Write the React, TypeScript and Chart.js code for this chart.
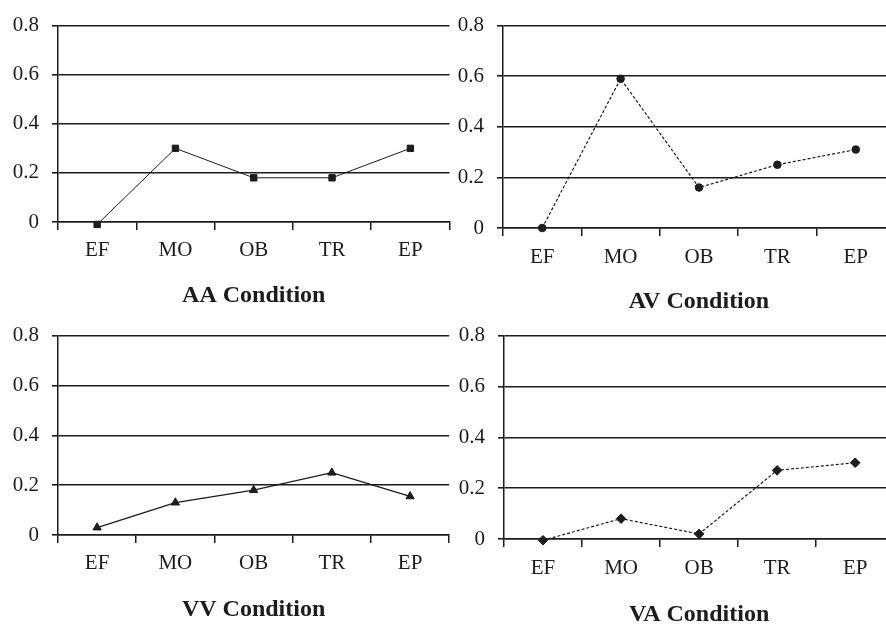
import React, { useEffect, useRef } from "react";
import { Chart, registerables } from "chart.js";

Chart.register(...registerables);

const categories = ["EF", "MO", "OB", "TR", "EP"];
const yTicks = [0, 0.2, 0.4, 0.6, 0.8];

const aaValues = [-0.01, 0.3, 0.18, 0.18, 0.3];
const avValues = [0, 0.59, 0.16, 0.25, 0.31];
const vvValues = [0.03, 0.13, 0.18, 0.25, 0.155];
const vaValues = [-0.005, 0.08, 0.02, 0.27, 0.3];

const titles = ["AA Condition", "AV Condition", "VV Condition", "VA Condition"];

type Panel = {
  title: string;
  values: number[];
  marker: string;
  radius: number;
  dash: number[];
  lineWidth: number;
  left: number;
  top: number;
  width: number;
  plotLeft: number;
  plotTop: number;
  plotRight: number;
  plotBottom: number;
  labelY: number;
  titleY: number;
};

const panels: Panel[] = [
  { title: titles[0], values: aaValues, marker: "rect", radius: 4.5, dash: [], lineWidth: 1,
    left: 0, top: 0, width: 455, plotLeft: 58, plotTop: 19, plotRight: 452, plotBottom: 222, labelY: 250, titleY: 296 },
  { title: titles[1], values: avValues, marker: "circle", radius: 3.8, dash: [3, 2], lineWidth: 1.2,
    left: 440, top: 0, width: 460, plotLeft: 503, plotTop: 19, plotRight: 900, plotBottom: 228, labelY: 257, titleY: 302 },
  { title: titles[2], values: vvValues, marker: "triangle", radius: 4.8, dash: [], lineWidth: 1.3,
    left: 0, top: 310, width: 455, plotLeft: 58, plotTop: 332, plotRight: 452, plotBottom: 535, labelY: 563, titleY: 610 },
  { title: titles[3], values: vaValues, marker: "rectRot", radius: 4.8, dash: [3, 2], lineWidth: 1.2,
    left: 440, top: 310, width: 460, plotLeft: 504, plotTop: 331, plotRight: 900, plotBottom: 539, labelY: 568, titleY: 615 },
];

const FONT = "'Liberation Serif', 'Times New Roman', serif";
const INK = "#1c1c1c";

function PanelChart({ p }: { p: Panel }) {
  const ref = useRef<HTMLCanvasElement | null>(null);
  const titleSize = 24;
  const labelSize = 21;
  const canvasBottom = p.titleY + 16;
  const height = canvasBottom - p.top;
  const xHeight = canvasBottom - p.plotBottom;
  const labelLH = labelSize * 1.2;
  const labelPad = p.labelY - p.plotBottom - 8 - labelLH / 2;

  useEffect(() => {
    if (!ref.current) return;
    const chart = new Chart(ref.current, {
      type: "line",
      data: {
        labels: categories,
        datasets: [
          {
            data: p.values,
            borderColor: INK,
            backgroundColor: INK,
            borderWidth: p.lineWidth,
            borderDash: p.dash,
            pointStyle: p.marker as any,
            pointRadius: p.radius,
            pointBorderWidth: 1,
            pointBorderColor: INK,
            pointBackgroundColor: INK,
            tension: 0,
            clip: false as any,
          },
        ],
      },
      options: {
        responsive: false,
        animation: false,
        devicePixelRatio: 1,
        layout: {
          padding: { top: p.plotTop - p.top, right: p.left + p.width - p.plotRight, left: 0, bottom: 0 },
        },
        plugins: { legend: { display: false }, tooltip: { enabled: false }, title: { display: false } },
        scales: {
          x: {
            type: "category",
            offset: true,
            grid: { display: true, drawOnChartArea: false, drawTicks: true, tickLength: 8, offset: true, color: INK, lineWidth: 1.5 },
            border: { display: true, color: INK, width: 1.6 },
            ticks: {
              color: INK,
              font: { family: FONT, size: labelSize },
              padding: labelPad,
              maxRotation: 0,
              autoSkip: false,
            },
            title: {
              display: true,
              text: p.title,
              color: INK,
              font: { family: FONT, size: titleSize, weight: "bold" },
              padding: { top: 0, bottom: 2 },
            },
            afterFit: (s: any) => { s.height = xHeight; },
          },
          y: {
            min: 0,
            max: 0.8,
            afterBuildTicks: (s: any) => { s.ticks = yTicks.map((v) => ({ value: v })); },
            grid: { color: INK, lineWidth: 1.6, tickLength: 6, drawTicks: true },
            border: { display: true, color: INK, width: 1.5 },
            ticks: {
              color: INK,
              font: { family: FONT, size: 21 },
              padding: 13,
              callback: (v: any) => String(Math.round(Number(v) * 10) / 10),
            },
            afterFit: (s: any) => { s.width = p.plotLeft - p.left; },
          },
        },
      },
    });
    return () => chart.destroy();
  }, []);

  return (
    <canvas
      ref={ref}
      width={p.width}
      height={height}
      style={{ position: "absolute", left: p.left, top: p.top, width: p.width, height }}
    />
  );
}

export default function App() {
  return (
    <div style={{ position: "fixed", left: 0, top: 0, width: 886, height: 627, overflow: "hidden", background: "#fff" }}>
      {panels.map((p, i) => (
        <PanelChart key={i} p={p} />
      ))}
    </div>
  );
}
